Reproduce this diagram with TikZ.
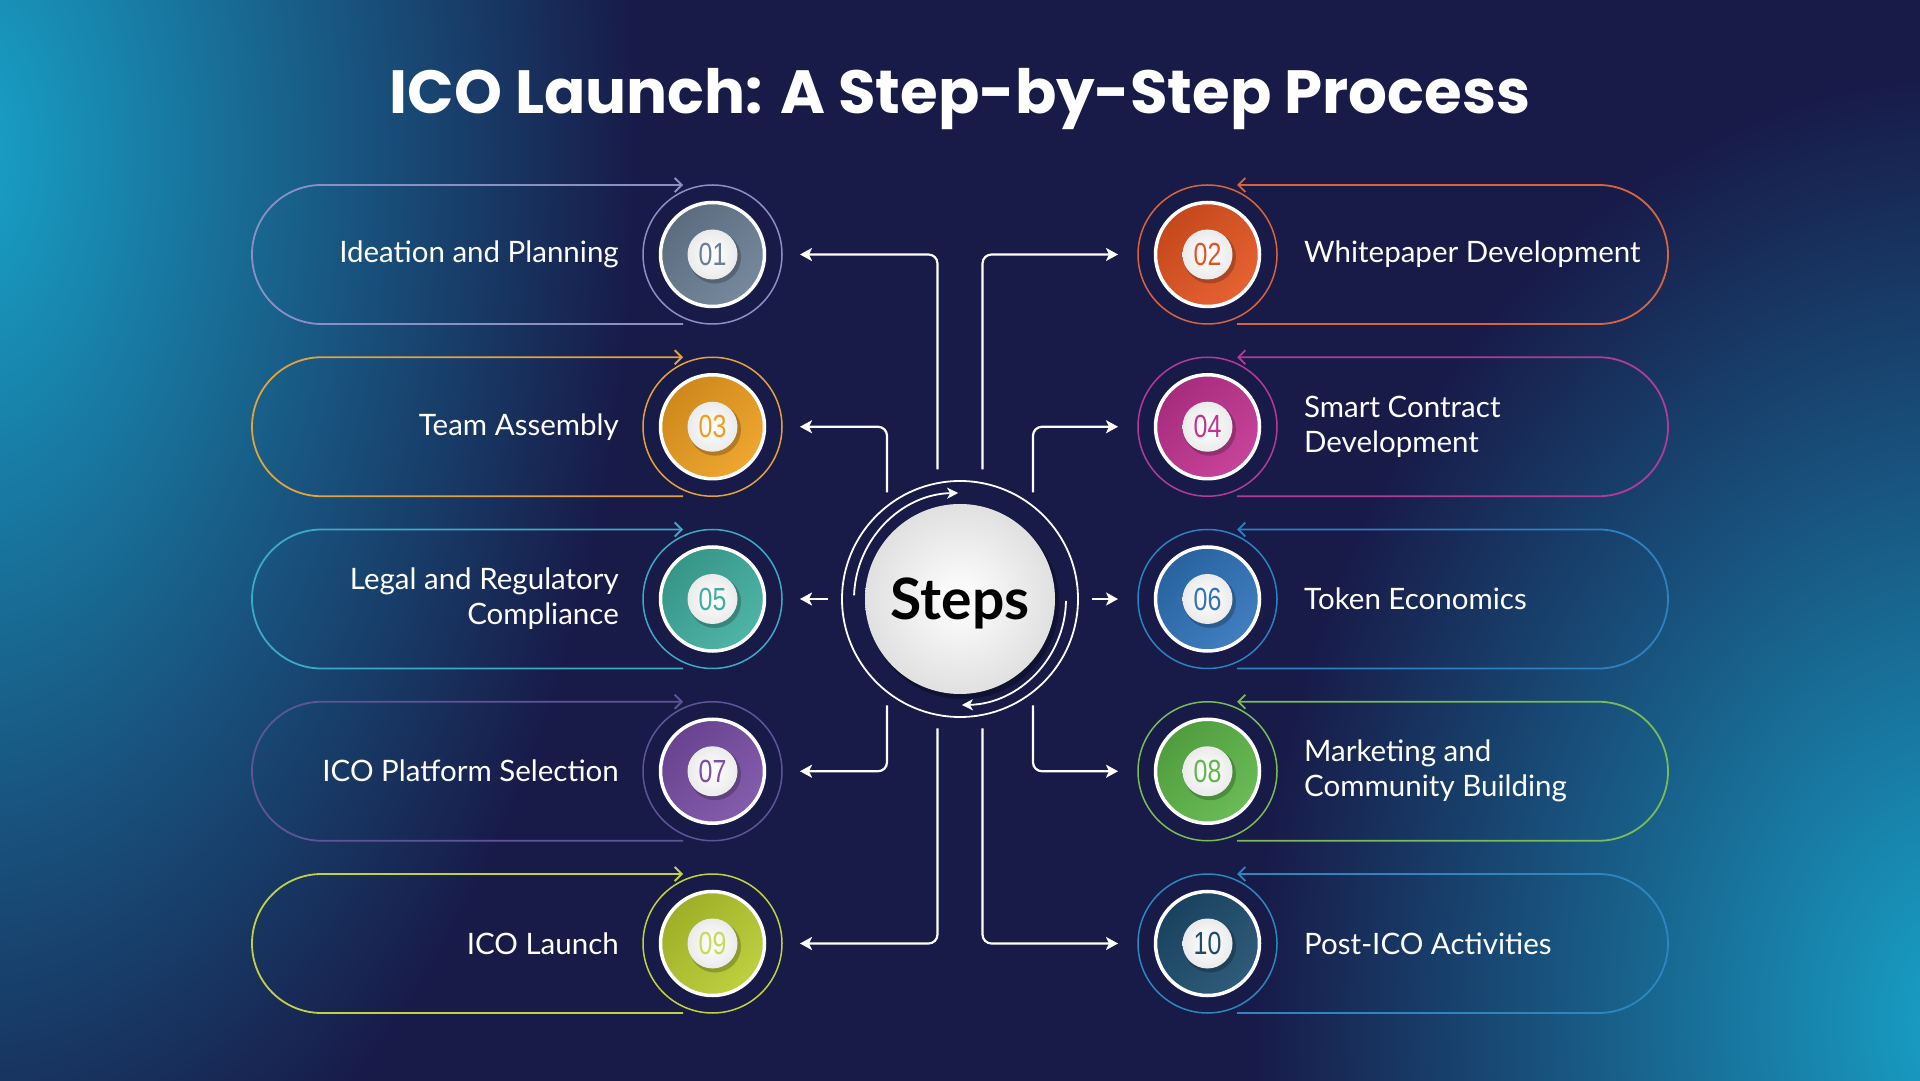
\documentclass[tikz,border=0pt]{standalone}
\usepackage{fontspec}
\usepackage{graphicx}
\setmainfont{Lato}
\newfontfamily\titlefont{Poppins}
\newfontfamily\numfont{Liberation Sans}
\usetikzlibrary{arrows.meta,calc}

\definecolor{navy}{HTML}{181A48}
\definecolor{glow}{HTML}{18A4CA}
\definecolor{glowmid}{HTML}{1F5E8E}
\definecolor{fA}{HTML}{6A7E94}\definecolor{lA}{HTML}{8A90C4}
\definecolor{fB}{HTML}{E45420}\definecolor{lB}{HTML}{D8643E}
\definecolor{fC}{HTML}{EE9F1F}\definecolor{lC}{HTML}{E3A23A}
\definecolor{fD}{HTML}{C23391}\definecolor{lD}{HTML}{B03C98}
\definecolor{fE}{HTML}{3FAE9E}\definecolor{lE}{HTML}{3EA9C6}
\definecolor{fF}{HTML}{2F73BA}\definecolor{lF}{HTML}{2E80C0}
\definecolor{fG}{HTML}{7A4EA6}\definecolor{lG}{HTML}{5E5598}
\definecolor{fH}{HTML}{5DB648}\definecolor{lH}{HTML}{7ABB58}
\definecolor{fI}{HTML}{B8CC2E}\definecolor{lI}{HTML}{C2D23E}
\definecolor{nI}{HTML}{C9DB55}
\definecolor{fJ}{HTML}{1D4D6E}\definecolor{lJ}{HTML}{2E86C0}

\tikzset{
  ring/.style={circle, minimum size=139pt, inner sep=0pt, outer sep=0pt, line width=1.5pt, fill=navy},
  disc/.style={circle, minimum size=104pt, inner sep=0pt, outer sep=0pt, draw=white, line width=3.5pt},
  numdisc/.style={circle, minimum size=50pt, inner sep=0pt, outer sep=0pt, inner color=white, outer color=black!8},
  numtext/.style={inner sep=0pt, font=\numfont\fontsize{32}{32}\selectfont},
  steptext/.style={inner sep=0pt, text=white, font=\fontsize{29.5}{35}\selectfont},
  pill/.style={line width=1.8pt, -{Straight Barb[length=7pt,width=14pt]}},
  conn/.style={draw=white, line width=2.2pt, rounded corners=9pt, -{Stealth[length=12pt,width=13pt,inset=3pt]}},
  cycarrow/.style={draw=white, line width=1.8pt, -{Stealth[length=11pt,width=11pt,inset=3pt]}}
}

\newcommand\stepbadge[6]{%
  \node[ring, draw=#5] (b#1) at (#2,#3) {};
  \node[disc, top color=#4!86!black, bottom color=#4!92!white, shading angle=45] (d#1) at (b#1.center) {};
  \fill[black, opacity=0.22] ([shift={(2.5,-3)}]b#1.center) circle (26);
  \node[numdisc] (w#1) at (b#1.center) {};
  \node[numtext, text=#6] (n#1) at (b#1.center) {\scalebox{0.78}[1]{#1}};
}
\newcommand\leftpill[3]{%
  \draw[pill, draw=#2] ([xshift=-29.5pt]b#1.south) -- ++(-361.5,0)
     arc[start angle=270, end angle=90, radius=69.5] -- ([xshift=-29.5pt]b#1.north);
  \node[steptext, anchor=east, align=right] (t#1) at ([xshift=-24pt]b#1.west) {#3};
}
\newcommand\rightpill[3]{%
  \draw[pill, draw=#2] ([xshift=29.5pt]b#1.south) -- ++(361.5,0)
     arc[start angle=-90, end angle=90, radius=69.5] -- ([xshift=29.5pt]b#1.north);
  \node[steptext, anchor=west, align=left] (t#1) at ([xshift=27pt]b#1.east) {#3};
}

\begin{document}
\begin{tikzpicture}[x=1pt,y=1pt]
\useasboundingbox (0,0) rectangle (1920,1080);
% background
\begin{scope}
  \clip (0,0) rectangle (1920,1080);
  \fill[navy] (-5,-5) rectangle (1925,1085);
  \shade[inner color=glow, outer color=navy] (-40,930) ellipse (680 and 1150);
  \shade[inner color=glow, outer color=navy] (1970,60) ellipse (720 and 950);
\end{scope}

% title
\node[anchor=base, text=white, inner sep=0pt, font=\titlefont\bfseries\fontsize{61}{61}\selectfont] (title) at (960,966) {ICO Launch: A Step-by-Step Process};

% badges
\stepbadge{01}{712.5}{825.5}{fA}{lA}{fA}
\stepbadge{03}{712.5}{653.25}{fC}{lC}{fC}
\stepbadge{05}{712.5}{481}{fE}{lE}{fE}
\stepbadge{07}{712.5}{308.75}{fG}{lG}{fG}
\stepbadge{09}{712.5}{136.5}{fI}{lI}{nI}
\stepbadge{02}{1207.5}{825.5}{fB}{lB}{fB}
\stepbadge{04}{1207.5}{653.25}{fD}{lD}{fD}
\stepbadge{06}{1207.5}{481}{fF}{lF}{fF}
\stepbadge{08}{1207.5}{308.75}{fH}{lH}{fH}
\stepbadge{10}{1207.5}{136.5}{fJ}{lJ}{fJ}

% pills and texts
\leftpill{01}{lA}{Ideation and Planning}
\leftpill{03}{lC}{Team Assembly}
\leftpill{05}{lE}{Legal and Regulatory\\Compliance}
\leftpill{07}{lG}{ICO Platform Selection}
\leftpill{09}{lI}{ICO Launch}
\rightpill{02}{lB}{Whitepaper Development}
\rightpill{04}{lD}{Smart Contract\\Development}
\rightpill{06}{lF}{Token Economics}
\rightpill{08}{lH}{Marketing and\\Community Building}
\rightpill{10}{lJ}{Post-ICO Activities}

% center
\node[circle, minimum size=236pt, inner sep=0pt, outer sep=0pt, draw=white, line width=1.8pt, fill=navy] (c) at (960,481) {};
\fill[black, opacity=0.3] ([shift={(3,-4)}]c.center) circle (96);
\node[circle, minimum size=190pt, inner sep=0pt, outer sep=0pt, inner color=white, outer color=black!12] (cs) at (c.center) {};
\node[anchor=base, inner sep=0pt, text=black, font=\bfseries\fontsize{57}{57}\selectfont] (steps) at ([yshift=-21pt]c.center) {Steps};
\draw[cycarrow] ([shift={(178:106)}]c.center) arc[start angle=178, end angle=91, radius=106];
\draw[cycarrow] ([shift={(-1:106)}]c.center) arc[start angle=-1, end angle=-89, radius=106];

% connector start points
\coordinate (s01) at ($(c.center)+(-22.5,129.5)$);
\coordinate (s02) at ($(c.center)+(22.5,129.5)$);
\coordinate (s03) at ($(c.center)+(-73,106.5)$);
\coordinate (s04) at ($(c.center)+(73,106.5)$);
\coordinate (s07) at ($(c.center)+(-73,-106.5)$);
\coordinate (s08) at ($(c.center)+(73,-106.5)$);
\coordinate (s09) at ($(c.center)+(-22.5,-129.5)$);
\coordinate (s10) at ($(c.center)+(22.5,-129.5)$);

\draw[conn] (s01) |- ([xshift=18pt]b01.east);
\draw[conn] (s03) |- ([xshift=18pt]b03.east);
\draw[conn] (s07) |- ([xshift=18pt]b07.east);
\draw[conn] (s09) |- ([xshift=18pt]b09.east);
\draw[conn] (s02) |- ([xshift=-20pt]b02.west);
\draw[conn] (s04) |- ([xshift=-20pt]b04.west);
\draw[conn] (s08) |- ([xshift=-20pt]b08.west);
\draw[conn] (s10) |- ([xshift=-20pt]b10.west);
\draw[conn] ([xshift=-14pt]c.west) -- ([xshift=18pt]b05.east);
\draw[conn] ([xshift=14pt]c.east) -- ([xshift=-20pt]b06.west);
\end{tikzpicture}
\end{document}
